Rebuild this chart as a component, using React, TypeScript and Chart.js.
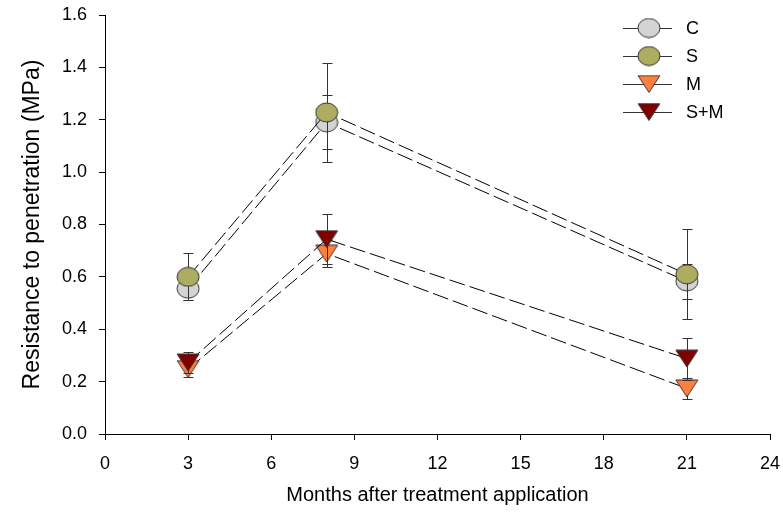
import React, { useEffect, useRef } from "react";
import { Chart, registerables } from "chart.js";

Chart.register(...registerables);

const months = [3, 8, 21];
const seriesLabels = ["C", "S", "M", "S+M"];
const cValues = [0.555, 1.19, 0.583];
const sValues = [0.6, 1.228, 0.61];
const mValues = [0.248, 0.689, 0.174];
const smValues = [0.273, 0.744, 0.288];
const cErrors = [0.045, 0.103, 0.068];
const sErrors = [0.09, 0.19, 0.172];
const mErrors = [0.03, 0.05, 0.04];
const smErrors = [0.04, 0.096, 0.08];
const xTickStep = 3;
const xRange = [0, 24];
const yTickStep = 0.2;
const yRange = [0, 1.6];

const FONT = "'Liberation Sans', Arial, sans-serif";
const fills = ["#d4d4d4", "#adad62", "#ff7f3f", "#800000"];
const shapes = ["circle", "circle", "tri", "tri"];

function makeMarker(shape: string, fill: string): HTMLCanvasElement {
  const c = document.createElement("canvas");
  const w = 22;
  const h = shape === "circle" ? 19 : 17;
  c.width = w + 2;
  c.height = h + 2;
  const ctx = c.getContext("2d")!;
  ctx.fillStyle = fill;
  ctx.strokeStyle = "#333";
  ctx.lineWidth = 1;
  ctx.beginPath();
  if (shape === "circle") {
    ctx.ellipse(c.width / 2, c.height / 2, w / 2, h / 2, 0, 0, Math.PI * 2);
  } else {
    ctx.moveTo(1, 1);
    ctx.lineTo(w + 1, 1);
    ctx.lineTo(c.width / 2, h + 1);
    ctx.closePath();
  }
  ctx.fill();
  ctx.stroke();
  return c;
}

export default function App() {
  const ref = useRef<HTMLCanvasElement | null>(null);
  useEffect(() => {
    document.body.style.margin = "0";
    const markers = shapes.map((s, i) => makeMarker(s, fills[i]));
    const values = [cValues, sValues, mValues, smValues];
    const errors = [cErrors, sErrors, mErrors, smErrors];

    const errorBars = {
      id: "errorBars",
      beforeDatasetDraw(chart: any, args: any) {
        const i = args.index;
        const ctx = chart.ctx;
        const xs = chart.scales.x;
        const ys = chart.scales.y;
        ctx.save();
        ctx.strokeStyle = "#333";
        ctx.lineWidth = 1;
        months.forEach((m, j) => {
          const px = Math.round(xs.getPixelForValue(m)) + 0.5;
          const top = Math.round(ys.getPixelForValue(values[i][j] + errors[i][j])) + 0.5;
          const bot = Math.round(ys.getPixelForValue(values[i][j] - errors[i][j])) + 0.5;
          ctx.beginPath();
          ctx.moveTo(px, top);
          ctx.lineTo(px, bot);
          ctx.moveTo(px - 5, top);
          ctx.lineTo(px + 5, top);
          ctx.moveTo(px - 5, bot);
          ctx.lineTo(px + 5, bot);
          ctx.stroke();
        });
        ctx.restore();
      },
    };

    const legendPlugin = {
      id: "customLegend",
      afterDraw(chart: any) {
        const ctx = chart.ctx;
        ctx.save();
        seriesLabels.forEach((lab, i) => {
          const y = 28 + i * 28;
          ctx.strokeStyle = "#333";
          ctx.lineWidth = 1;
          ctx.beginPath();
          ctx.moveTo(623, y + 0.5);
          ctx.lineTo(672, y + 0.5);
          ctx.stroke();
          const mk = markers[i];
          ctx.drawImage(mk, 649 - mk.width / 2, y - mk.height / 2);
          ctx.fillStyle = "#000";
          ctx.font = `18px ${FONT}`;
          ctx.textBaseline = "middle";
          ctx.textAlign = "left";
          ctx.fillText(lab, 686, y + 1);
        });
        ctx.restore();
      },
    };

    const datasets = values.map((vals, i) => ({
      label: seriesLabels[i],
      data: months.map((m, j) => ({ x: m, y: vals[j] })),
      borderColor: "#000",
      borderWidth: 1,
      borderDash: [16, 5],
      pointStyle: markers[i],
      pointRadius: 11,
      pointHoverRadius: 11,
      showLine: true,
      fill: false,
      tension: 0,
      order: 4 - i,
    }));

    const chart = new Chart(ref.current!, {
      type: "line",
      data: { datasets },
      options: {
        responsive: false,
        animation: false,
        events: [],
        layout: { padding: { top: 15, right: 13, left: 0, bottom: 0 } },
        plugins: { legend: { display: false }, tooltip: { enabled: false } },
        scales: {
          x: {
            type: "linear",
            min: xRange[0],
            max: xRange[1],
            ticks: {
              stepSize: xTickStep,
              color: "#000",
              font: { size: 18, family: FONT },
              padding: 13,
              maxRotation: 0,
              autoSkip: false,
            },
            grid: { drawOnChartArea: false, drawTicks: true, tickLength: 6, color: "#000", lineWidth: 1 },
            border: { display: true, color: "#000", width: 1 },
            title: {
              display: true,
              text: "Months after treatment application",
              color: "#000",
              font: { size: 20, family: FONT },
              padding: { top: 0, bottom: 8 },
            },
            afterFit: (s: any) => {
              s.height = 81;
              s.paddingLeft = 0;
              s.paddingRight = 0;
            },
          },
          y: {
            type: "linear",
            min: yRange[0],
            max: yRange[1],
            ticks: {
              stepSize: yTickStep,
              color: "#000",
              font: { size: 18, family: FONT },
              padding: 12,
              callback: (v: any) => Number(v).toFixed(1),
            },
            grid: { drawOnChartArea: false, drawTicks: true, tickLength: 6, color: "#000", lineWidth: 1 },
            border: { display: true, color: "#000", width: 1 },
            title: {
              display: true,
              text: "Resistance to penetration (MPa)",
              color: "#000",
              font: { size: 23, family: FONT },
              padding: { top: 19, bottom: 0 },
            },
            afterFit: (s: any) => {
              s.width = 105;
              s.paddingTop = 0;
              s.paddingBottom = 0;
            },
          },
        },
      },
      plugins: [errorBars, legendPlugin],
    } as any);
    return () => chart.destroy();
  }, []);
  return (
    <div>
      <canvas ref={ref} width={783} height={515} style={{ display: "block" }} />
    </div>
  );
}
